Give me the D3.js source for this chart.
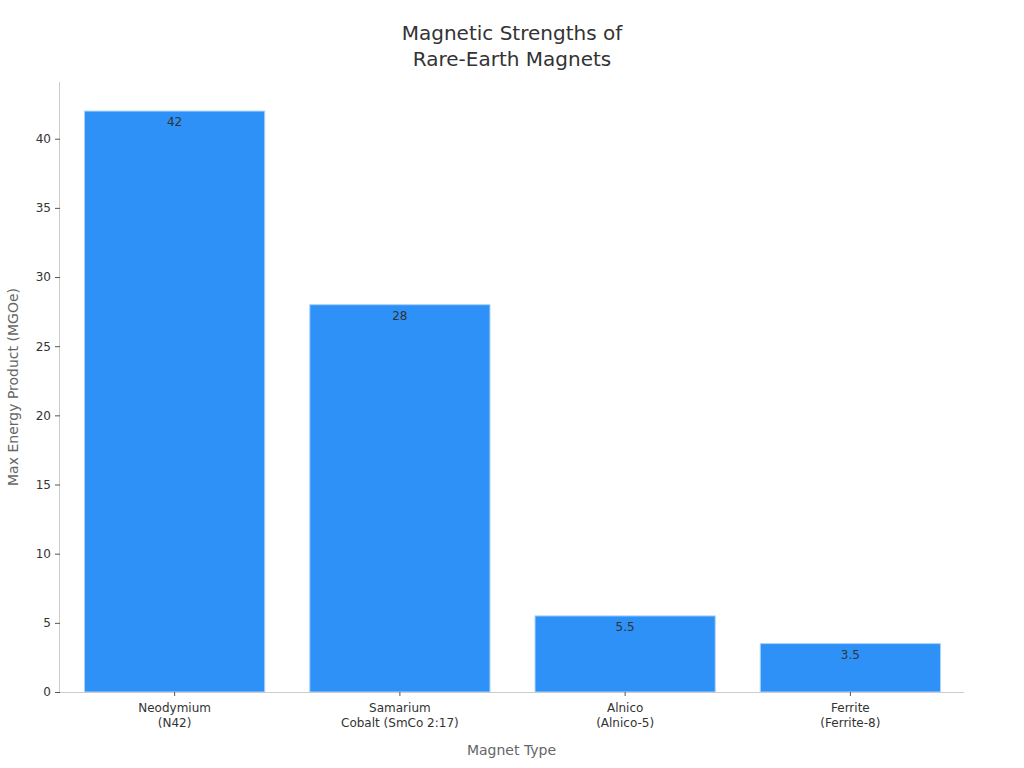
<!DOCTYPE html>
<html>
<head>
<meta charset="utf-8">
<script src="https://cdn.jsdelivr.net/npm/d3@7"></script>
<style>
  body { margin: 0; background: #fff; font-family: "DejaVu Sans", sans-serif; }
  svg text { font-family: "DejaVu Sans", sans-serif; }
  .tick text { fill: #333; font-size: 12px; }
  .tick line { stroke: #555; }
  .domain { stroke: #ccc; }
</style>
</head>
<body>
<svg id="chart" width="1024" height="768"></svg>
<script>
const magnetTypes = ["Neodymium\n(N42)", "Samarium\nCobalt (SmCo 2:17)", "Alnico\n(Alnico-5)", "Ferrite\n(Ferrite-8)"];
const energyProducts = [42, 28, 5.5, 3.5];
const yTickValues = [0, 5, 10, 15, 20, 25, 30, 35, 40];

const data = magnetTypes.map((name, i) => ({ name, value: energyProducts[i] }));

const svg = d3.select('#chart');
const width = 1024, height = 768;
const margin = { top: 82, right: 61, bottom: 76, left: 60 };
const innerWidth = width - margin.left - margin.right;
const innerHeight = height - margin.top - margin.bottom;

const xScale = d3.scaleBand()
    .domain(magnetTypes)
    .range([2, innerWidth])
    .paddingInner(0.2)
    .paddingOuter(0.1);

const yScale = d3.scaleLinear()
    .domain([0, d3.max(energyProducts) * 1.05])
    .range([innerHeight, 0]);

const g = svg.append('g')
    .attr('transform', `translate(${margin.left},${margin.top})`);

// bars
g.selectAll('rect').data(data)
    .enter().append('rect')
    .attr('x', d => xScale(d.name))
    .attr('y', d => yScale(d.value))
    .attr('width', xScale.bandwidth())
    .attr('height', d => innerHeight - yScale(d.value))
    .attr('fill', '#2e91f8')
    .attr('stroke', '#a9d3fb')
    .attr('stroke-width', 1);

// value labels
g.selectAll('.value-label').data(data)
    .enter().append('text')
    .attr('class', 'value-label')
    .attr('x', d => xScale(d.name) + xScale.bandwidth() / 2)
    .attr('y', d => yScale(d.value) + 15)
    .attr('text-anchor', 'middle')
    .attr('fill', '#333')
    .style('font-size', '12px')
    .text(d => d.value);

// y axis
const yAxisG = g.append('g')
    .call(d3.axisLeft(yScale).tickValues(yTickValues).tickSize(5).tickPadding(4));

// x axis
const xAxisG = g.append('g')
    .attr('transform', `translate(0,${innerHeight})`)
    .call(d3.axisBottom(xScale).tickSize(4).tickSizeOuter(0).tickPadding(7));
xAxisG.attr('font-family', '"DejaVu Sans", sans-serif');
yAxisG.attr('font-family', '"DejaVu Sans", sans-serif');

xAxisG.select('.domain').attr('d', `M0,0.5H${innerWidth + 1}`);
yAxisG.select('.domain').attr('d', `M-0.5,${innerHeight}V0`);

xAxisG.selectAll('.tick text').each(function (d) {
    const el = d3.select(this);
    const lines = d.split('\n');
    el.text(null);
    lines.forEach((line, i) => {
        el.append('tspan')
            .attr('x', 0)
            .attr('dy', i === 0 ? '0.71em' : '1.33em')
            .text(line);
    });
});

// axis titles
svg.append('text')
    .attr('x', margin.left + innerWidth / 2)
    .attr('y', 755)
    .attr('text-anchor', 'middle')
    .attr('fill', '#666')
    .style('font-size', '14px')
    .text('Magnet Type');

svg.append('text')
    .attr('transform', `translate(18,${margin.top + innerHeight / 2}) rotate(-90)`)
    .attr('text-anchor', 'middle')
    .attr('fill', '#666')
    .style('font-size', '14px')
    .text('Max Energy Product (MGOe)');

// title
const title = svg.append('text')
    .attr('x', width / 2)
    .attr('text-anchor', 'middle')
    .attr('fill', '#333')
    .style('font-size', '20px');
title.append('tspan').attr('x', width / 2).attr('y', 40).text('Magnetic Strengths of');
title.append('tspan').attr('x', width / 2).attr('y', 66).text('Rare-Earth Magnets');
</script>
</body>
</html>
